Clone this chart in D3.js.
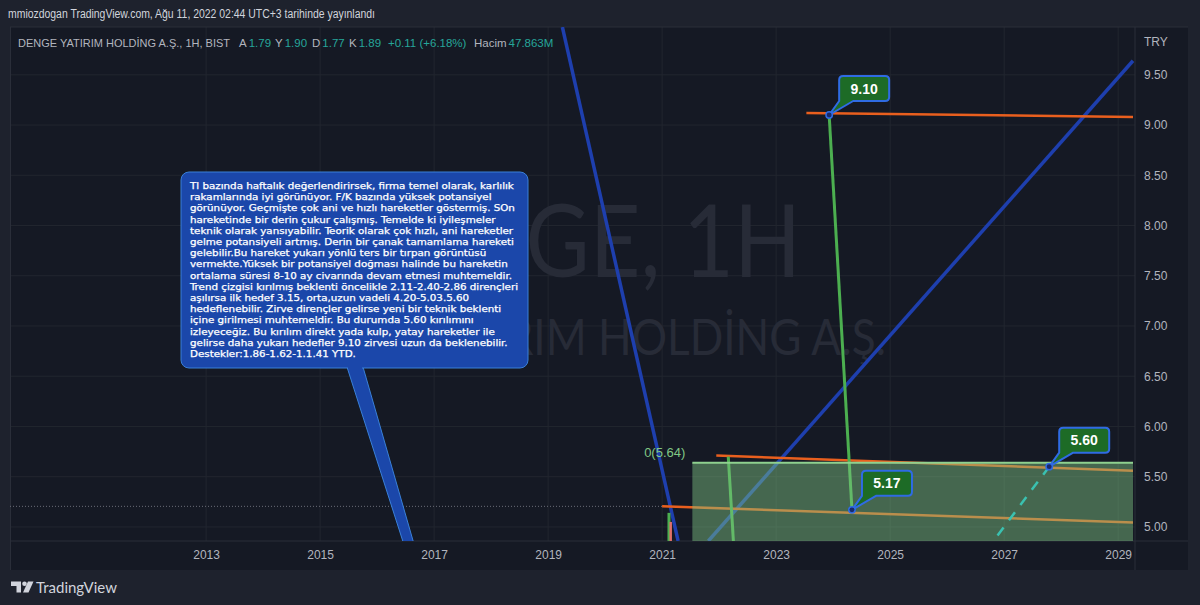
<!DOCTYPE html>
<html><head><meta charset="utf-8">
<script src="https://cdn.jsdelivr.net/npm/d3@7"></script>
<style>
html,body{margin:0;padding:0;background:#1e222d;overflow:hidden;}
svg{display:block;}
</style></head><body>
<svg id="c" width="1200" height="605"></svg>
<script>
// ---------------- DATA ----------------
const yearTicks = [2013, 2015, 2017, 2019, 2021, 2023, 2025, 2027, 2029];
const priceTicks = [5.0, 5.5, 6.0, 6.5, 7.0, 7.5, 8.0, 8.5, 9.0, 9.5];
const yearDomain = [2009.56, 2029.26];
const priceDomain = [4.86, 9.976];

const blueLines = [
  [[2019.25, 9.976], [2021.28, 4.86]],
  [[2021.81, 4.86], [2029.26, 9.64]]
];
const orangeLines = [
  [[2023.53, 9.12], [2029.26, 9.08]],
  [[2021.95, 5.71], [2029.26, 5.56]],
  [[2021.00, 5.205], [2029.26, 5.045]]
];
const greenLines = [
  [[2023.93, 9.10], [2024.33, 5.17]],
  [[2022.16, 5.70], [2022.25, 4.86]],
  [[2021.12, 5.14], [2021.12, 4.86]]
];
const smallOrange = [[2021.15, 5.05], [2021.15, 4.86]];
const cyanDashed = [[2027.79, 5.60], [2026.81, 4.86]];
const dottedLine = [[2009.56, 5.205], [2021.00, 5.205]];
const zone = {x0: 2021.53, x1: 2029.26, top: 5.64, bottom: 4.70, label: "0(5.64)"};
const priceLabels = [
  {year: 2023.93, price: 9.10, text: "9.10"},
  {year: 2024.33, price: 5.17, text: "5.17"},
  {year: 2027.79, price: 5.60, text: "5.60"}
];
const noteTarget = {year: 2016.60, price: 4.75};
const noteLines = [
  "Tl bazında haftalık değerlendirirsek, firma temel olarak, karlılık",
  "rakamlarında iyi görünüyor. F/K bazında yüksek potansiyel",
  "görünüyor. Geçmişte çok ani ve hızlı hareketler göstermiş. SOn",
  "hareketinde bir derin çukur çalışmış. Temelde ki iyileşmeler",
  "teknik olarak yansıyabilir. Teorik olarak çok hızlı, ani hareketler",
  "gelme potansiyeli artmış. Derin bir çanak tamamlama hareketi",
  "gelebilir.Bu hareket yukarı yönlü ters bir tırpan görüntüsü",
  "vermekte.Yüksek bir potansiyel doğması halinde bu hareketin",
  "ortalama süresi 8-10 ay civarında devam etmesi muhtemeldir.",
  "Trend çizgisi kırılmış beklenti öncelikle 2.11-2.40-2.86 dirençleri",
  "aşılırsa ilk hedef 3.15, orta,uzun vadeli 4.20-5.03.5.60",
  "hedeflenebilir. Zirve dirençler gelirse yeni bir teknik beklenti",
  "içine girilmesi muhtemeldir. Bu durumda 5.60 kırılımını",
  "izleyeceğiz. Bu kırılım direkt yada kulp, yatay hareketler ile",
  "gelirse daha yukarı hedefler 9.10 zirvesi uzun da beklenebilir.",
  "Destekler:1.86-1.62-1.1.41 YTD."
];
const headerText = "mmiozdogan TradingView.com, Ağu 11, 2022 02:44 UTC+3 tarihinde yayınlandı";
const legendName = "DENGE YATIRIM HOLDİNG A.Ş., 1H, BIST";
const legendLabels = ["A", "Y", "D", "K", "", "Hacim"];
const legendValues = ["1.79", "1.90", "1.77", "1.89", "+0.11 (+6.18%)", "47.863M"];
const watermark1 = "DENGE, 1H";
const watermark2 = "DENGE YATIRIM HOLDİNG A.Ş.";
const currency = "TRY";

// ---------------- LAYOUT ----------------
const pane = {l: 10, r: 1135, t: 27, b: 541};
const svg = d3.select("#c");
const x = d3.scaleLinear().domain(yearDomain).range([pane.l, 1133]);
const y = d3.scaleLinear().domain(priceDomain).range([pane.b, pane.t]);
const FONT = "'Liberation Sans', Arial, sans-serif";

svg.append("rect").attr("width", 1200).attr("height", 605).attr("fill", "#1e222d");
svg.append("rect").attr("x", pane.l).attr("y", pane.t).attr("width", 1188 - pane.l).attr("height", 570 - pane.t).attr("fill", "#151924");

const defs = svg.append("defs");
defs.append("clipPath").attr("id", "pc").append("rect")
  .attr("x", pane.l).attr("y", pane.t).attr("width", pane.r - pane.l).attr("height", pane.b - pane.t);

// grid
const grid = svg.append("g").attr("clip-path", "url(#pc)");
grid.selectAll("line.h").data(priceTicks).join("line")
  .attr("x1", pane.l).attr("x2", pane.r).attr("y1", d => y(d)).attr("y2", d => y(d))
  .attr("stroke", "#22262f").attr("stroke-width", 1);
grid.selectAll("line.v").data(yearTicks).join("line")
  .attr("y1", pane.t).attr("y2", pane.b).attr("x1", d => x(d)).attr("x2", d => x(d))
  .attr("stroke", "#22262f").attr("stroke-width", 1);

// watermark
const wm = svg.append("g").attr("clip-path", "url(#pc)").attr("font-family", "Lato, 'Open Sans', sans-serif").attr("fill", "#272b37");
wm.append("text").attr("x", 571).attr("y", 277).attr("text-anchor", "middle").attr("font-size", 100)
  .attr("textLength", 460).attr("lengthAdjust", "spacingAndGlyphs").text(watermark1);
wm.append("text").attr("x", 571).attr("y", 355).attr("text-anchor", "middle").attr("font-size", 51)
  .attr("textLength", 630).attr("lengthAdjust", "spacingAndGlyphs").text(watermark2);

// pane borders
svg.append("line").attr("x1", pane.l).attr("x2", 1188).attr("y1", pane.t).attr("y2", pane.t).attr("stroke", "#2a2e39");
svg.append("line").attr("x1", pane.l).attr("x2", 1188).attr("y1", pane.b).attr("y2", pane.b).attr("stroke", "#2a2e39");
svg.append("line").attr("x1", pane.r).attr("x2", pane.r).attr("y1", pane.t).attr("y2", 570).attr("stroke", "#2a2e39");
svg.append("line").attr("x1", pane.l + 0.5).attr("x2", pane.l + 0.5).attr("y1", pane.t).attr("y2", 570).attr("stroke", "#2a2e39");

const line = d3.line().x(d => x(d[0])).y(d => y(d[1]));
const g = svg.append("g").attr("clip-path", "url(#pc)");

g.append("path").attr("d", line(dottedLine)).attr("stroke", "#6a6d78").attr("stroke-width", 1)
  .attr("stroke-dasharray", "1,2").attr("fill", "none");
g.selectAll("path.blue").data(blueLines).join("path").attr("class", "blue")
  .attr("d", line).attr("stroke", "#1e3fae").attr("stroke-width", 3.5).attr("fill", "none");
g.selectAll("path.orange").data(orangeLines).join("path").attr("class", "orange")
  .attr("d", line).attr("stroke", "#e95f1e").attr("stroke-width", 2.5).attr("fill", "none");
g.selectAll("path.green").data(greenLines).join("path").attr("class", "green")
  .attr("d", line).attr("stroke", "#4caf50").attr("stroke-width", 3).attr("fill", "none");
g.append("path").attr("d", line(smallOrange)).attr("stroke", "#e0706a").attr("stroke-width", 2.5).attr("fill", "none");
g.append("path").attr("d", line(cyanDashed)).attr("stroke", "#00bcd4").attr("stroke-width", 2.5)
  .attr("stroke-dasharray", "10,9").attr("fill", "none");

// translucent zone
g.append("rect").attr("x", x(zone.x0)).attr("y", y(zone.top))
  .attr("width", x(zone.x1) - x(zone.x0)).attr("height", y(zone.bottom) - y(zone.top))
  .attr("fill", "rgba(129,199,132,0.45)");
g.append("line").attr("x1", x(zone.x0)).attr("x2", x(zone.x1)).attr("y1", y(zone.top)).attr("y2", y(zone.top))
  .attr("stroke", "#8fd18f").attr("stroke-width", 2);
svg.append("text").attr("x", x(zone.x0) - 7).attr("y", y(zone.top) - 6).attr("text-anchor", "end")
  .attr("font-family", FONT).attr("font-size", 13).attr("fill", "#81c784").text(zone.label);

// price label callouts
const pl = svg.append("g").selectAll("g").data(priceLabels).join("g");
pl.append("path").attr("d", d => {
  const px = x(d.year), py = y(d.price);
  const bx = px + 10, by = py - 39, w = 50, h = 25, r = 4;
  return `M${bx + r},${by} H${bx + w - r} Q${bx + w},${by} ${bx + w},${by + r} V${by + h - r} Q${bx + w},${by + h} ${bx + w - r},${by + h} H${bx + 14} L${px},${py} L${bx},${by + h} V${by + r} Q${bx},${by} ${bx + r},${by} Z`;
}).attr("fill", "#1d6b26").attr("stroke", "#2f6be4").attr("stroke-width", 2).attr("stroke-linejoin", "round");
pl.append("text").attr("x", d => x(d.year) + 35).attr("y", d => y(d.price) - 21.5)
  .attr("text-anchor", "middle").attr("font-family", FONT).attr("font-weight", "bold")
  .attr("font-size", 14).attr("fill", "#ffffff").text(d => d.text);
pl.append("circle").attr("cx", d => x(d.year)).attr("cy", d => y(d.price)).attr("r", 3.2)
  .attr("fill", "#1a2a6a").attr("stroke", "#2f6be4").attr("stroke-width", 1.5);

// note callout
const box = {x: 181, y: 172, w: 347, h: 196};
const tip = [x(noteTarget.year), y(noteTarget.price)];
g.append("path").attr("d", `M347,${box.y + box.h - 1} L363,${box.y + box.h - 1} L${tip[0] + 5},${tip[1]} L${tip[0] - 5},${tip[1]} Z`)
  .attr("fill", "#1b47aa").attr("stroke", "#3a80d8").attr("stroke-width", 1);
svg.append("rect").attr("x", box.x).attr("y", box.y).attr("width", box.w).attr("height", box.h).attr("rx", 8)
  .attr("fill", "#1b47aa").attr("stroke", "#3a80d8").attr("stroke-width", 1);
svg.append("rect").attr("x", 348).attr("y", box.y + box.h - 2).attr("width", 14).attr("height", 3).attr("fill", "#1b47aa");
const nt = svg.append("g").attr("font-family", "'DejaVu Sans Condensed', 'DejaVu Sans', sans-serif")
  .attr("font-size", 9.2).attr("fill", "#ffffff").attr("stroke", "#ffffff").attr("stroke-width", 0.25);
const ntl = nt.selectAll("text").data(noteLines).join("text")
  .attr("x", 190).attr("y", (d, i) => 189 + i * 11.2).text(d => d);
const widths = ntl.nodes().map(n => n.getComputedTextLength());
const sc = widths[9] > 0 ? 328 / widths[9] : 1;
ntl.each(function (d, i) {
  if (widths[i] > 0) d3.select(this).attr("textLength", widths[i] * sc).attr("lengthAdjust", "spacingAndGlyphs");
});

// axes
const xAxis = d3.axisBottom(x).tickValues(yearTicks).tickFormat(d => String(d)).tickSize(0).tickPadding(9);
const xa = svg.append("g").attr("transform", `translate(0,${pane.b})`).call(xAxis);
xa.select(".domain").remove();
xa.selectAll("text").attr("font-family", FONT).attr("font-size", 12).attr("fill", "#b2b5be");

const yAxis = d3.axisRight(y).tickValues(priceTicks).tickFormat(d3.format(".2f")).tickSize(0).tickPadding(9);
const ya = svg.append("g").attr("transform", `translate(${pane.r},0)`).call(yAxis);
ya.select(".domain").remove();
ya.selectAll("text").attr("font-family", FONT).attr("font-size", 12).attr("fill", "#b2b5be");
svg.append("text").attr("x", 1144).attr("y", 46).attr("font-family", FONT).attr("font-size", 12)
  .attr("fill", "#b2b5be").text(currency);

// header
svg.append("text").attr("x", 8).attr("y", 18).attr("font-family", FONT).attr("font-size", 12.5)
  .attr("fill", "#d1d4dc").attr("textLength", 367).attr("lengthAdjust", "spacingAndGlyphs").text(headerText);

// legend
const lgG = svg.append("g").attr("font-family", FONT).attr("font-size", 11.5);
lgG.append("text").attr("x", 18).attr("y", 47).attr("fill", "#b2b5be")
  .attr("textLength", 212).attr("lengthAdjust", "spacingAndGlyphs").text(legendName);
const groupStarts = [239, 275, 312, 349, 388, 474];
legendLabels.forEach((lab, i) => {
  let cx = groupStarts[i];
  if (lab) {
    const t = lgG.append("text").attr("x", cx).attr("y", 47).attr("fill", "#b2b5be").text(lab);
    cx += t.node().getComputedTextLength() + 2;
  }
  lgG.append("text").attr("x", cx).attr("y", 47).attr("fill", "#26a69a").text(legendValues[i]);
});

// TradingView logo
const logo = svg.append("g").attr("fill", "#d1d4dc");
logo.append("path").attr("d", "M11,581.5 h10 v11 h-4.5 v-6.5 h-5.5 z");
logo.append("circle").attr("cx", 24.5).attr("cy", 583.8).attr("r", 2.3);
logo.append("path").attr("d", "M28,581.5 h5.5 l-5,11 h-5.5 z");
svg.append("text").attr("x", 36).attr("y", 592.5).attr("font-family", "Lato, 'Open Sans', sans-serif")
  .attr("font-size", 15).attr("fill", "#d1d4dc").text("TradingView");
</script>
</body></html>
